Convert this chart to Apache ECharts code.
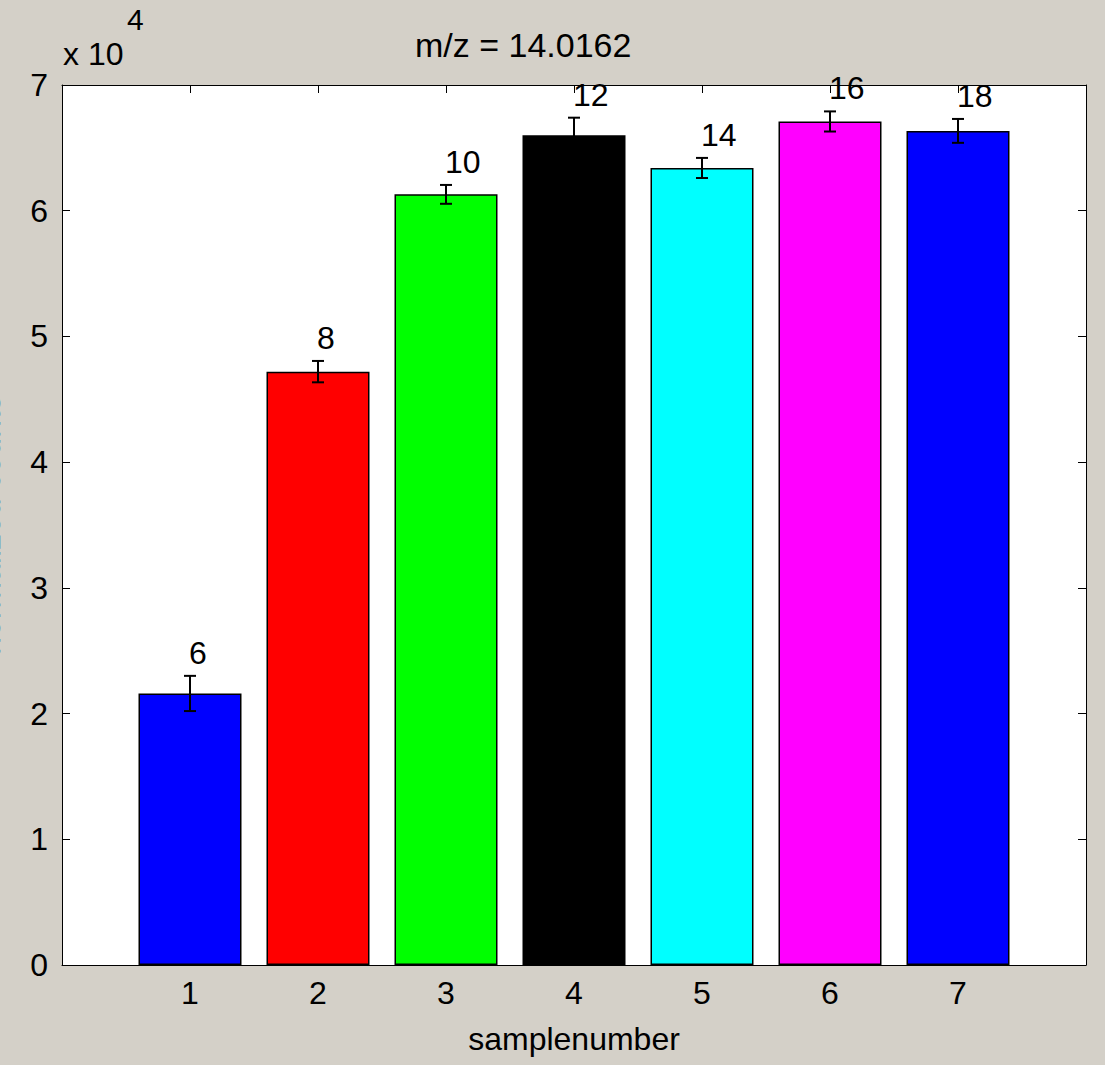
<!DOCTYPE html>
<html>
<head>
<meta charset="utf-8">
<script src="https://cdn.jsdelivr.net/npm/echarts@6/dist/echarts.min.js"></script>
<style>
html,body{margin:0;padding:0;background:#d4d0c8;}
#chart{width:1105px;height:1065px;}
</style>
</head>
<body>
<div id="chart"></div>
<script>
var samples = [1, 2, 3, 4, 5, 6, 7];
var values = [2.16, 4.72, 6.13, 6.60, 6.34, 6.71, 6.635];
var errors = [0.14, 0.085, 0.075, 0.14, 0.08, 0.08, 0.095];
var barLabels = ['6', '8', '10', '12', '14', '16', '18'];
var barColors = ['#0000ff', '#ff0000', '#00ff00', '#000000', '#00ffff', '#ff00ff', '#0000ff'];
var yTicks = [0, 1, 2, 3, 4, 5, 6, 7];
var titleText = 'm/z = 14.0162';
var xName = 'samplenumber';
var yName = 'normalized counts';

var FONT = 'Liberation Sans';
var FS = 32;

var chart = echarts.init(document.getElementById('chart'), null, {renderer: 'svg'});

var barData = samples.map(function (s, i) {
  return {value: [s, values[i]], itemStyle: {color: barColors[i]}};
});
var errData = samples.map(function (s, i) { return [s, values[i], errors[i]]; });
var labelData = samples.map(function (s, i) { return [s, values[i] + errors[i], barLabels[i]]; });

function boxAxisX(pos, showLabel) {
  return {
    type: 'value', min: 0, max: 8, interval: 1, position: pos, gridIndex: 0,
    axisLine: {show: true, onZero: false, lineStyle: {color: '#000', width: 1}},
    axisTick: {show: true, inside: true, length: 8, lineStyle: {color: '#000'}},
    splitLine: {show: false},
    axisLabel: {
      show: showLabel, margin: 12, color: '#000', fontFamily: FONT, fontSize: FS,
      formatter: function (v) { return (v >= 1 && v <= 7) ? String(v) : ''; }
    }
  };
}
function boxAxisY(pos, showLabel) {
  return {
    type: 'value', min: 0, max: 7, interval: 1, position: pos, gridIndex: 0,
    axisLine: {show: true, onZero: false, lineStyle: {color: '#000', width: 1}},
    axisTick: {show: true, inside: true, length: 8, lineStyle: {color: '#000'}},
    splitLine: {show: false},
    axisLabel: {
      show: showLabel, margin: 14, color: '#000', fontFamily: FONT, fontSize: FS,
      formatter: function (v) { return yTicks.indexOf(v) >= 0 ? String(v) : ''; }
    }
  };
}

var xBottom = boxAxisX('bottom', true);
xBottom.name = xName;
xBottom.nameLocation = 'middle';
xBottom.nameGap = 58;
xBottom.nameTextStyle = {color: '#000', fontFamily: FONT, fontSize: FS};

chart.setOption({
  backgroundColor: '#d4d0c8',
  animation: false,
  grid: {left: 62, right: 19, top: 85, bottom: 100, containLabel: false,
         show: true, backgroundColor: '#ffffff', borderWidth: 0},
  xAxis: [xBottom, boxAxisX('top', false)],
  yAxis: [boxAxisY('left', true), boxAxisY('right', false)],
  graphic: [
    {type: 'text', left: 415, top: 28, style: {text: titleText, fill: '#000', font: '34px "' + FONT + '"'}},
    {type: 'text', left: 63, top: 38, style: {text: 'x 10', fill: '#000', font: FS + 'px "' + FONT + '"'}},
    {type: 'text', left: 127, top: 4, style: {text: '4', fill: '#000', font: '30px "' + FONT + '"'}},
    {type: 'text', x: 5, y: 525, rotation: Math.PI / 2,
     style: {text: yName, fill: '#000', font: FS + 'px "' + FONT + '"', textAlign: 'center', textVerticalAlign: 'bottom'}}
  ],
  series: [
    {
      type: 'bar', xAxisIndex: 0, yAxisIndex: 0, barWidth: 103,
      itemStyle: {borderColor: '#000', borderWidth: 1.5},
      data: barData
    },
    {
      type: 'custom', xAxisIndex: 0, yAxisIndex: 0, clip: false, z: 5,
      data: errData,
      renderItem: function (params, api) {
        var x = api.value(0), v = api.value(1), e = api.value(2);
        var top = api.coord([x, v + e]);
        var bot = api.coord([x, v - e]);
        var hw = 6;
        var st = {stroke: '#000', lineWidth: 2};
        return {type: 'group', children: [
          {type: 'line', shape: {x1: top[0], y1: top[1], x2: bot[0], y2: bot[1]}, style: st},
          {type: 'line', shape: {x1: top[0] - hw, y1: top[1], x2: top[0] + hw, y2: top[1]}, style: st},
          {type: 'line', shape: {x1: bot[0] - hw, y1: bot[1], x2: bot[0] + hw, y2: bot[1]}, style: st}
        ]};
      }
    },
    {
      type: 'custom', xAxisIndex: 0, yAxisIndex: 0, clip: false, z: 6,
      data: labelData,
      renderItem: function (params, api) {
        var x = api.value(0), y = api.value(1);
        var p = api.coord([x, y]);
        return {type: 'text', x: p[0] - 1, y: p[1] - 23,
          style: {text: barLabels[params.dataIndex], fill: '#000', font: FS + 'px "' + FONT + '"',
                  textAlign: 'left', textVerticalAlign: 'middle'}};
      }
    }
  ]
});
</script>
</body>
</html>
